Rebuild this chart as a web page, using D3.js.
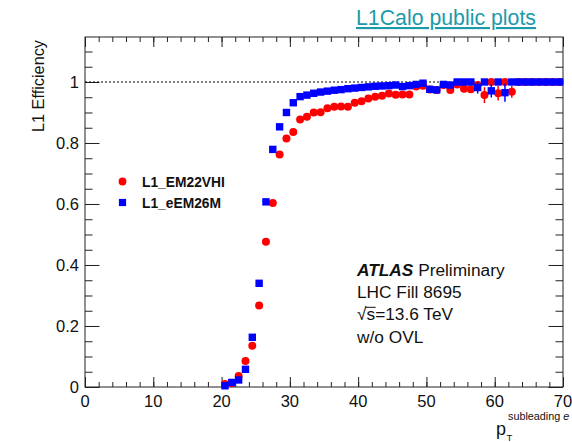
<!DOCTYPE html>
<html>
<head>
<meta charset="utf-8">
<script src="https://cdn.jsdelivr.net/npm/d3@7"></script>
<style>
  body { margin: 0; background: #fff; }
  svg { display: block; }
  text { font-family: "Liberation Sans", Arial, Helvetica, sans-serif; }
</style>
</head>
<body>
<svg id="chart" width="572" height="442"></svg>
<script>
// ---- data ----
const binCenters = [20.5,21.5,22.5,23.5,24.5,25.5,26.5,27.5,28.5,29.5,30.5,31.5,32.5,33.5,34.5,35.5,36.5,37.5,38.5,39.5,40.5,41.5,42.5,43.5,44.5,45.5,46.5,47.5,48.5,49.5,50.5,51.5,52.5,53.5,54.5,55.5,56.5,57.5,58.5,59.5,60.5,61.5,62.5,63.5,64.5,65.5,66.5,67.5,68.5,69.5];
const effEM22VHI = [0.010,0.012,0.036,0.085,0.135,0.267,0.476,0.603,0.762,0.815,0.836,0.877,0.886,0.900,0.901,0.914,0.919,0.920,0.919,0.932,0.937,0.946,0.952,0.955,0.962,0.958,0.959,0.959,0.985,0.988,0.975,0.974,0.990,0.974,0.992,0.978,0.976,0.990,0.957,1.000,0.963,1.000,0.968,1.000,1.000,1.000,1.000,1.000,1.000,1.000];
const errEM22VHI = [0,0,0,0,0,0,0,0,0,0,0,0,0,0,0,0,0,0,0,0,0,0,0,0,0,0,0,0,0,0,0,0,0,0,0,0.012,0.012,0,0.026,0,0.024,0,0.02,0,0,0,0,0,0,0];
const effEEM26M = [0.004,0.015,0.023,0.058,0.163,0.340,0.607,0.779,0.853,0.900,0.932,0.952,0.957,0.963,0.967,0.970,0.973,0.975,0.978,0.980,0.982,0.984,0.986,0.987,0.988,0.990,0.985,0.988,0.992,0.996,0.976,0.974,0.992,0.990,1.000,1.000,1.000,0.982,1.000,0.971,1.000,0.965,1.000,1.000,1.000,1.000,1.000,1.000,1.000,1.000];
const errEEM26M = [0,0,0,0,0,0,0,0,0,0,0,0,0,0,0,0,0,0,0,0,0,0,0,0,0,0,0,0,0,0,0.008,0.008,0,0,0,0,0,0.02,0,0.022,0,0.03,0,0,0,0,0,0,0,0];
const seriesNames = ["L1_EM22VHI", "L1_eEM26M"];
const xTicks = [0,10,20,30,40,50,60,70];
const yTicks = [0,0.2,0.4,0.6,0.8,1];
const infoLines = ["LHC Fill 8695", "=13.6 TeV", "w/o OVL"];

// ---- layout ----
const svg = d3.select("#chart");
const L = 85, R = 563, T = 37, B = 387;
const x = d3.scaleLinear().domain([0, 70]).range([L, R]);
const y = d3.scaleLinear().domain([0, 1.1475]).range([B, T]);

// title link
svg.append("text").attr("x", 356).attr("y", 25)
  .attr("font-size", 21.3).attr("fill", "#1b9aaa")
  .attr("text-decoration", "underline")
  .text("L1Calo public plots");

// frame
svg.append("rect").attr("x", L).attr("y", T).attr("width", R - L).attr("height", B - T)
  .attr("fill", "none").attr("stroke", "#222").attr("stroke-width", 1);

// ticks via axes (inward)
const xMinor = d3.range(0, 70.001, 2);
const yMinor = d3.range(0, 1.1475, 0.05);
function tickGroup(axis, tr) {
  const g = svg.append("g").attr("transform", tr).call(axis);
  g.select(".domain").remove();
  g.selectAll("line").attr("stroke", "#222");
  return g;
}
tickGroup(d3.axisBottom(x).tickValues(xMinor).tickSize(-5).tickFormat(""), `translate(0,${B})`);
tickGroup(d3.axisBottom(x).tickValues(xTicks).tickSize(-10).tickFormat(""), `translate(0,${B})`);
tickGroup(d3.axisTop(x).tickValues(xMinor).tickSize(-5).tickFormat(""), `translate(0,${T})`);
tickGroup(d3.axisTop(x).tickValues(xTicks).tickSize(-10).tickFormat(""), `translate(0,${T})`);
tickGroup(d3.axisLeft(y).tickValues(yMinor).tickSize(-7.5).tickFormat(""), `translate(${L},0)`);
tickGroup(d3.axisLeft(y).tickValues(yTicks).tickSize(-14.5).tickFormat(""), `translate(${L},0)`);
tickGroup(d3.axisRight(y).tickValues(yMinor).tickSize(-7.5).tickFormat(""), `translate(${R},0)`);
tickGroup(d3.axisRight(y).tickValues(yTicks).tickSize(-14.5).tickFormat(""), `translate(${R},0)`);

// tick labels
svg.append("g").selectAll("text").data(xTicks).join("text")
  .attr("x", d => x(d)).attr("y", 407).attr("text-anchor", "middle")
  .attr("font-size", 16.5).attr("fill", "#111").text(d => d);
svg.append("g").selectAll("text").data(yTicks).join("text")
  .attr("x", 79).attr("y", d => y(d) + 6).attr("text-anchor", "end")
  .attr("font-size", 16.5).attr("fill", "#111").text(d => d === 0 ? "0" : d3.format("~g")(d));

// axis titles
svg.append("text").attr("transform", "translate(44,40) rotate(-90)")
  .attr("text-anchor", "end").attr("font-size", 16.3).attr("fill", "#111")
  .text("L1 Efficiency");
const xt = svg.append("g");
xt.append("text").attr("x", 496).attr("y", 435).attr("font-size", 18).attr("fill", "#111").text("p");
xt.append("text").attr("x", 506.5).attr("y", 440.5).attr("font-size", 9.5).attr("fill", "#111").text("T");
const sup = xt.append("text").attr("x", 508).attr("y", 420).attr("font-size", 10.8).attr("fill", "#111");
sup.append("tspan").text("subleading ");
sup.append("tspan").attr("font-style", "italic").text("e");

// dotted line at 1
svg.append("line").attr("x1", L).attr("x2", R).attr("y1", y(1)).attr("y2", y(1))
  .attr("stroke", "#000").attr("stroke-width", 1.2).attr("stroke-dasharray", "2,2");

// data
const redData = binCenters.map((c, i) => ({x: c, v: effEM22VHI[i], e: errEM22VHI[i]}));
const blueData = binCenters.map((c, i) => ({x: c, v: effEEM26M[i], e: errEEM26M[i]}));
const RED = "#ff0000", BLUE = "#0000ff";

function errBars(data, color) {
  svg.append("g").selectAll("line").data(data.filter(d => d.e > 0)).join("line")
    .attr("x1", d => x(d.x)).attr("x2", d => x(d.x))
    .attr("y1", d => y(Math.min(1, d.v + d.e))).attr("y2", d => y(d.v - d.e))
    .attr("stroke", color).attr("stroke-width", 1.5);
}
errBars(redData, RED);
svg.append("g").selectAll("circle").data(redData).join("circle")
  .attr("cx", d => x(d.x)).attr("cy", d => y(d.v)).attr("r", 4).attr("fill", RED);
errBars(blueData, BLUE);
const S = 7.4;
svg.append("g").selectAll("rect").data(blueData).join("rect")
  .attr("x", d => x(d.x) - S / 2).attr("y", d => y(d.v) - S / 2)
  .attr("width", S).attr("height", S).attr("fill", BLUE);

// legend
const leg = svg.append("g");
leg.append("circle").attr("cx", 122.5).attr("cy", 181.5).attr("r", 3.9).attr("fill", RED);
leg.append("rect").attr("x", 122.5 - 3.6).attr("y", 202.5 - 3.6).attr("width", 7.2).attr("height", 7.2).attr("fill", BLUE);
leg.append("text").attr("x", 142).attr("y", 186.5).attr("font-size", 13.8).attr("font-weight", "bold").attr("fill", "#111").text(seriesNames[0]);
leg.append("text").attr("x", 142).attr("y", 207.5).attr("font-size", 13.8).attr("font-weight", "bold").attr("fill", "#111").text(seriesNames[1]);

// ATLAS label
const info = svg.append("g").attr("font-size", 17.3).attr("fill", "#111");
const t1 = info.append("text").attr("x", 357).attr("y", 275.5);
t1.append("tspan").attr("font-weight", "bold").attr("font-style", "italic").text("ATLAS");
t1.append("tspan").text(" Preliminary");
info.append("text").attr("x", 357).attr("y", 298).text(infoLines[0]);
// sqrt(s) line
const y3 = 298 + 22.3;
const sq = info.append("text").attr("x", 357).attr("y", y3);
sq.append("tspan").text("\u221A");
sq.append("tspan").text("s");
sq.append("tspan").text(infoLines[1]);
const radW = sq.select("tspan").node().getComputedTextLength();
const sW = sq.selectAll("tspan").nodes()[1].getComputedTextLength();
info.append("line").attr("x1", 357 + radW - 1).attr("x2", 357 + radW + sW + 0.5)
  .attr("y1", y3 - 13).attr("y2", y3 - 13).attr("stroke", "#111").attr("stroke-width", 1);
info.append("text").attr("x", 357).attr("y", 298 + 2 * 22.3).text(infoLines[2]);
</script>
</body>
</html>
